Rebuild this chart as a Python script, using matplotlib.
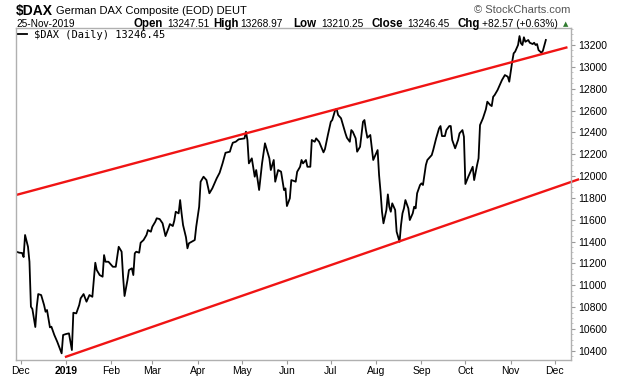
import pandas as pd
import matplotlib.pyplot as plt
from matplotlib.ticker import MultipleLocator

# daily closes (approximate)
dates = [
    '2018-11-28', '2018-11-30', '2018-12-02', '2018-12-03', '2018-12-04', '2018-12-06', '2018-12-07',
    '2018-12-08', '2018-12-09', '2018-12-11', '2018-12-12', '2018-12-13', '2018-12-15', '2018-12-17',
    '2018-12-18', '2018-12-19', '2018-12-21', '2018-12-22', '2018-12-24', '2018-12-26', '2018-12-29',
    '2018-12-30', '2019-01-01', '2019-01-03', '2019-01-05', '2019-01-06', '2019-01-08', '2019-01-10',
    '2019-01-11', '2019-01-13', '2019-01-15', '2019-01-17', '2019-01-19', '2019-01-21', '2019-01-22',
    '2019-01-24', '2019-01-26', '2019-01-27', '2019-01-28', '2019-01-30', '2019-02-01', '2019-02-02',
    '2019-02-04', '2019-02-06', '2019-02-08', '2019-02-09', '2019-02-10', '2019-02-12', '2019-02-13',
    '2019-02-15', '2019-02-16', '2019-02-17', '2019-02-18', '2019-02-20', '2019-02-21', '2019-02-23',
    '2019-02-25', '2019-02-26', '2019-02-28', '2019-03-01', '2019-03-03', '2019-03-04', '2019-03-06',
    '2019-03-08', '2019-03-10', '2019-03-12', '2019-03-13', '2019-03-15', '2019-03-16', '2019-03-17',
    '2019-03-19', '2019-03-20', '2019-03-21', '2019-03-22', '2019-03-24', '2019-03-25', '2019-03-26',
    '2019-03-30', '2019-03-31', '2019-04-02', '2019-04-03', '2019-04-05', '2019-04-07', '2019-04-09',
    '2019-04-11', '2019-04-14', '2019-04-16', '2019-04-18', '2019-04-20', '2019-04-23', '2019-04-24',
    '2019-04-25', '2019-04-27', '2019-04-29', '2019-05-03', '2019-05-04', '2019-05-05', '2019-05-06',
    '2019-05-08', '2019-05-10', '2019-05-11', '2019-05-13', '2019-05-15', '2019-05-17', '2019-05-20',
    '2019-05-21', '2019-05-23', '2019-05-24', '2019-05-26', '2019-05-28', '2019-05-30', '2019-05-31',
    '2019-06-01', '2019-06-03', '2019-06-04', '2019-06-06', '2019-06-07', '2019-06-08', '2019-06-10',
    '2019-06-11', '2019-06-12', '2019-06-14', '2019-06-15', '2019-06-17', '2019-06-18', '2019-06-20',
    '2019-06-21', '2019-06-23', '2019-06-26', '2019-06-27', '2019-06-29', '2019-07-01', '2019-07-02',
    '2019-07-04', '2019-07-05', '2019-07-06', '2019-07-08', '2019-07-10', '2019-07-11', '2019-07-12',
    '2019-07-14', '2019-07-15', '2019-07-16', '2019-07-18', '2019-07-19', '2019-07-21', '2019-07-23',
    '2019-07-24', '2019-07-25', '2019-07-26', '2019-07-28', '2019-07-30', '2019-07-31', '2019-08-02',
    '2019-08-03', '2019-08-04', '2019-08-05', '2019-08-06', '2019-08-08', '2019-08-09', '2019-08-10',
    '2019-08-11', '2019-08-12', '2019-08-14', '2019-08-15', '2019-08-17', '2019-08-18', '2019-08-19',
    '2019-08-20', '2019-08-21', '2019-08-23', '2019-08-24', '2019-08-26', '2019-08-27', '2019-08-28',
    '2019-08-29', '2019-08-31', '2019-09-01', '2019-09-02', '2019-09-04', '2019-09-05', '2019-09-08',
    '2019-09-09', '2019-09-11', '2019-09-13', '2019-09-14', '2019-09-15', '2019-09-17', '2019-09-18',
    '2019-09-20', '2019-09-21', '2019-09-22', '2019-09-24', '2019-09-26', '2019-09-27', '2019-09-29',
    '2019-09-30', '2019-10-01', '2019-10-03', '2019-10-05', '2019-10-06', '2019-10-07', '2019-10-09',
    '2019-10-10', '2019-10-11', '2019-10-12', '2019-10-13', '2019-10-15', '2019-10-16', '2019-10-18',
    '2019-10-19', '2019-10-20', '2019-10-21', '2019-10-23', '2019-10-25', '2019-10-26', '2019-10-28',
    '2019-10-30', '2019-10-31', '2019-11-02', '2019-11-03', '2019-11-04', '2019-11-06', '2019-11-07',
    '2019-11-08', '2019-11-09', '2019-11-10', '2019-11-11', '2019-11-13', '2019-11-14', '2019-11-16',
    '2019-11-17', '2019-11-18', '2019-11-19', '2019-11-20', '2019-11-22', '2019-11-23', '2019-11-25',
]
close = [
    11307, 11298, 11295, 11258, 11460, 11352, 11215,
    10803, 10782, 10617, 10803, 10919, 10910, 10818,
    10757, 10773, 10614, 10620, 10544, 10482, 10376,
    10544, 10553, 10559, 10406, 10748, 10742, 10818,
    10880, 10919, 10849, 10910, 10894, 11206, 11139,
    11093, 11078, 11276, 11215, 11215, 11185, 11169,
    11169, 11352, 11307, 11078, 10901, 11047, 11139,
    11155, 11093, 11292, 11307, 11298, 11389, 11414,
    11460, 11505, 11490, 11536, 11581, 11613, 11606,
    11567, 11450, 11521, 11560, 11542, 11591, 11673,
    11658, 11780, 11658, 11551, 11439, 11338, 11384,
    11414, 11536, 11719, 11948, 11994, 11963, 11842,
    11887, 11979, 12030, 12116, 12213, 12223, 12268,
    12305, 12314, 12336, 12345, 12406, 12330, 12116,
    12162, 11994, 12055, 11872, 12116, 12300, 12162,
    12055, 12147, 11948, 12055, 12040, 11872, 11887,
    11725, 11796, 11963, 11954, 11948, 12039, 12085,
    12147, 12116, 12147, 12085, 12085, 12330, 12314,
    12345, 12314, 12217, 12247, 12376, 12497, 12513,
    12605, 12614, 12559, 12529, 12437, 12391, 12351,
    12314, 12421, 12406, 12345, 12223, 12268, 12497,
    12513, 12421, 12351, 12376, 12147, 12177, 12238,
    12009, 11856, 11673, 11567, 11689, 11832, 11719,
    11673, 11750, 11689, 11490, 11398, 11551, 11658,
    11704, 11780, 11704, 11597, 11658, 11719, 11704,
    11842, 11918, 11933, 11918, 12101, 12147, 12192,
    12238, 12345, 12437, 12458, 12366, 12366, 12421,
    12458, 12458, 12330, 12254, 12330, 12391, 12421,
    12360, 11927, 11994, 12055, 12085, 11963, 12101,
    12162, 12467, 12497, 12529, 12611, 12681, 12650,
    12641, 12726, 12742, 12788, 12849, 12879, 12925,
    12910, 12864, 13047, 13124, 13139, 13200, 13282,
    13216, 13200, 13271, 13230, 13246, 13221, 13209,
    13221, 13200, 13209, 13154, 13129, 13148, 13246.45,
]

# channel lines
upper_dates = ['2018-11-28', '2019-12-09']
upper_vals = [11827, 13177]
lower_dates = ['2019-01-01', '2019-12-17']
lower_vals = [10345, 11968]

month_ticks = ['2018-12-01', '2019-01-01', '2019-02-01', '2019-03-01', '2019-04-01', '2019-05-01',
               '2019-06-01', '2019-07-01', '2019-08-01', '2019-09-01', '2019-10-01', '2019-11-01',
               '2019-12-01']
month_labels = ['Dec', '2019', 'Feb', 'Mar', 'Apr', 'May', 'Jun', 'Jul', 'Aug', 'Sep', 'Oct', 'Nov', 'Dec']
y_ticks = list(range(10400, 13201, 200))

plt.rcParams['font.family'] = ['Liberation Sans', 'DejaVu Sans']

W, H = 620, 376
fig = plt.figure(figsize=(W / 100, H / 100), dpi=100)
ax = fig.add_axes([16 / W, 1 - 360 / H, 555 / W, 332 / H])

ax.plot(pd.to_datetime(dates), close, color='black', lw=1.3, label=r'\$DAX (Daily) 13246.45')
ax.plot(pd.to_datetime(upper_dates), upper_vals, color='#f01414', lw=1.7)
ax.plot(pd.to_datetime(lower_dates), lower_vals, color='#f01414', lw=1.7, clip_on=False)

t0 = pd.Timestamp('2019-01-01')
ax.set_xlim(t0 - pd.Timedelta(days=34.2), t0 + pd.Timedelta(days=345.2))
ax.set_ylim(10315, 13356)

ax.set_xticks(pd.to_datetime(month_ticks))
ax.set_xticklabels(month_labels)
for lbl in ax.get_xticklabels():
    if lbl.get_text() == '2019':
        lbl.set_fontweight('bold')

ax.yaxis.tick_right()
ax.set_yticks(y_ticks)
ax.set_yticklabels([str(v) for v in y_ticks])
ax.yaxis.set_minor_locator(MultipleLocator(50))

ax.tick_params(axis='y', which='major', length=3, width=0.8, color='#999999', labelsize=7.5, pad=2)
ax.tick_params(axis='y', which='minor', length=1.5, width=0.6, color='#bbbbbb')
ax.tick_params(axis='x', length=3, width=0.8, color='#999999', labelsize=7.5, pad=1.5)
for s in ax.spines.values():
    s.set_color('#b0b0b0')
    s.set_linewidth(1)

ax.legend(loc='upper left', bbox_to_anchor=(0, 1), borderaxespad=0.1, borderpad=0.1, frameon=False,
          handlelength=0.9, handletextpad=0.6, prop={'family': 'DejaVu Sans Mono', 'size': 7.5})


def put(x, y, s, **kw):
    fig.text(x / W, 1 - y / H, s, va='baseline', **kw)


# header
put(16, 14.5, r'\$DAX', fontsize=10, fontweight='bold')
put(56, 14.5, 'German DAX Composite (EOD) DEUT', fontsize=8)
put(570, 13, '© StockCharts.com', fontsize=8, color='#555555', ha='right')

put(16, 27, '25-Nov-2019', fontsize=7.3)
put(133, 27, 'Open', fontsize=8.3, fontweight='bold')
put(167, 27, '13247.51', fontsize=7.3)
put(213, 27, 'High', fontsize=8.3, fontweight='bold')
put(240, 27, '13268.97', fontsize=7.3)
put(293, 27, 'Low', fontsize=8.3, fontweight='bold')
put(321, 27, '13210.25', fontsize=7.3)
put(371, 27, 'Close', fontsize=8.3, fontweight='bold')
put(407, 27, '13246.45', fontsize=7.3)
put(457, 27, 'Chg', fontsize=8.3, fontweight='bold')
put(482, 27, '+82.57 (+0.63%)', fontsize=7.3)
put(563, 26.5, '▲', fontsize=5, color='#2f7a2f', family='DejaVu Sans')

fig.savefig('out.png', dpi=100)
